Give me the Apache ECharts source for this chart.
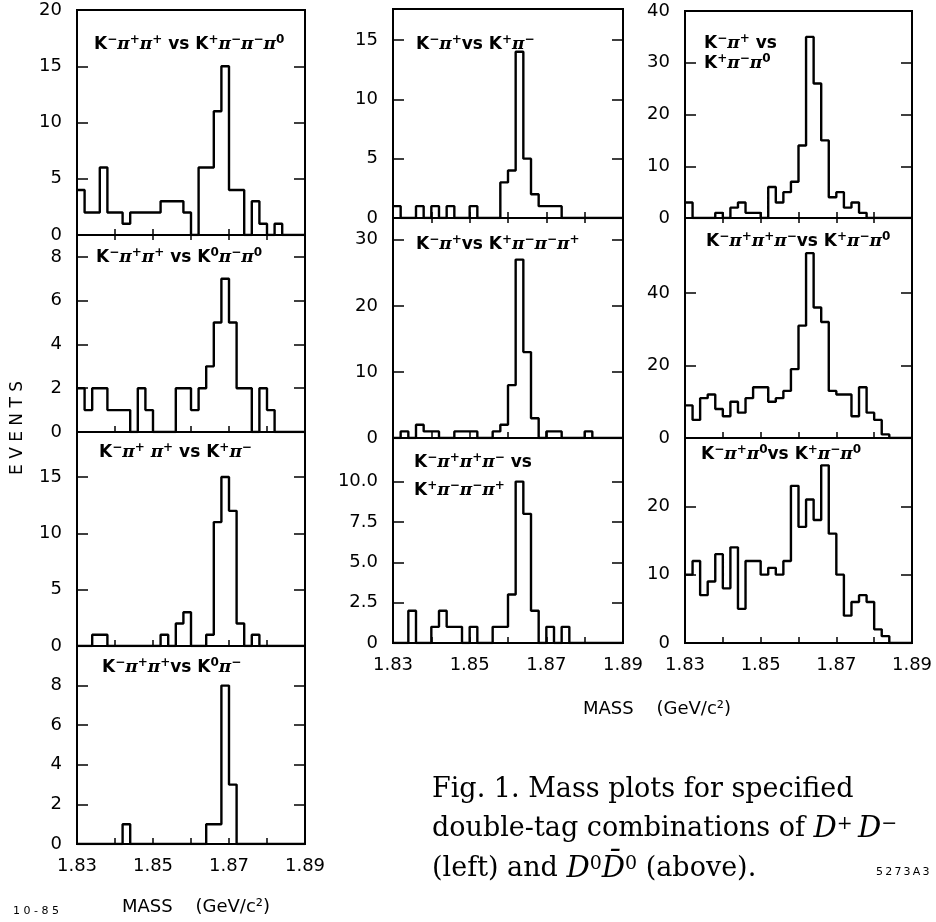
<!DOCTYPE html>
<html>
<head>
<meta charset="utf-8">
<script src="https://cdn.jsdelivr.net/npm/echarts@6/dist/echarts.min.js"></script>
<style>
  html, body { margin: 0; padding: 0; background: #fff; }
  #chart { width: 936px; height: 922px; }
</style>
</head>
<body>
<div id="chart"></div>
<script>
// Histogram binning: 30 bins of 2 MeV from 1.83 to 1.89 GeV/c^2
const BIN_LO = 1.83;
const BIN_W = 0.002;

// Mass axis ticks and labels (GeV/c^2)
const massTicks = [1.83, 1.84, 1.85, 1.86, 1.87, 1.88, 1.89];
const massLabels = [1.83, 1.85, 1.87, 1.89];

// D+ D- double tags (events per bin)
const kpipi_vs_kpipipi0 = [4, 2, 2, 6, 2, 2, 1, 2, 2, 2, 2, 3, 3, 3, 2, 0, 6, 6, 11, 15, 4, 4, 0, 3, 1, 0, 1, 0, 0, 0];
const kpipi_vs_k0pipi0  = [2, 1, 2, 2, 1, 1, 1, 0, 2, 1, 0, 0, 0, 2, 2, 1, 2, 3, 5, 7, 5, 2, 2, 0, 2, 1, 0, 0, 0, 0];
const kpipi_vs_kpi      = [0, 0, 1, 1, 0, 0, 0, 0, 0, 0, 0, 1, 0, 2, 3, 0, 0, 1, 11, 15, 12, 2, 0, 1, 0, 0, 0, 0, 0, 0];
const kpipi_vs_k0pi     = [0, 0, 0, 0, 0, 0, 1, 0, 0, 0, 0, 0, 0, 0, 0, 0, 0, 1, 1, 8, 3, 0, 0, 0, 0, 0, 0, 0, 0, 0];

// D0 D0bar double tags (events per bin)
const kpi_vs_kpi         = [1, 0, 0, 1, 0, 1, 0, 1, 0, 0, 1, 0, 0, 0, 3, 4, 14, 5, 2, 1, 1, 1, 0, 0, 0, 0, 0, 0, 0, 0];
const kpi_vs_k3pi        = [0, 1, 0, 2, 1, 1, 0, 0, 1, 1, 1, 0, 0, 1, 2, 8, 27, 13, 3, 0, 1, 1, 0, 0, 0, 1, 0, 0, 0, 0];
const k3pi_vs_k3pi       = [0, 0, 2, 0, 0, 1, 2, 1, 1, 0, 1, 0, 0, 1, 1, 3, 10, 8, 2, 0, 1, 0, 1, 0, 0, 0, 0, 0, 0, 0];
const kpi_vs_kpipi0      = [3, 0, 0, 0, 1, 0, 2, 3, 1, 1, 0, 6, 3, 5, 7, 14, 35, 26, 15, 4, 5, 2, 3, 1, 0, 0, 0, 0, 0, 0];
const k3pi_vs_kpipi0     = [9, 5, 11, 12, 8, 6, 10, 7, 11, 14, 14, 10, 11, 13, 19, 31, 51, 36, 32, 13, 12, 12, 6, 14, 7, 5, 1, 0, 0, 0];
const kpipi0_vs_kpipi0   = [10, 12, 7, 9, 13, 8, 14, 5, 12, 12, 10, 11, 10, 12, 23, 17, 21, 18, 26, 16, 10, 4, 6, 7, 6, 2, 1, 0, 0, 0];

// Event-axis tick labels per panel
const eventTicksL1 = [0, 5, 10, 15, 20];
const eventTicksL2 = [0, 2, 4, 6, 8];
const eventTicksL3 = [0, 5, 10, 15];
const eventTicksL4 = [0, 2, 4, 6, 8];
const eventTicksM1 = [0, 5, 10, 15];
const eventTicksM2 = [0, 10, 20, 30];
const eventTicksM3 = [0, 2.5, 5, 7.5, 10];
const eventTicksR1 = [0, 10, 20, 30, 40];
const eventTicksR2 = [0, 20, 40];
const eventTicksR3 = [0, 10, 20];

// Panel layout (pixels) and decay-mode captions
const COL_L = { left: 77, width: 228 };
const COL_M = { left: 393, width: 230 };
const COL_R = { left: 685, width: 227 };

const panels = [
  { counts: kpipi_vs_kpipipi0, ticks: eventTicksL1, max: 20, col: COL_L, top: 10, bottom: 235, topTicks: true, xLabels: false,
    titles: [{ t: 'K-π+π+ vs K+π-π-π0', x: 94, y: 34 }] },
  { counts: kpipi_vs_k0pipi0, ticks: eventTicksL2, max: 9, col: COL_L, top: 235, bottom: 432, topTicks: false, xLabels: false,
    titles: [{ t: 'K-π+π+ vs K0π-π0', x: 96, y: 247 }] },
  { counts: kpipi_vs_kpi, ticks: eventTicksL3, max: 19, col: COL_L, top: 432, bottom: 646, topTicks: false, xLabels: false,
    titles: [{ t: 'K-π+ π+ vs K+π-', x: 99, y: 442 }] },
  { counts: kpipi_vs_k0pi, ticks: eventTicksL4, max: 10, col: COL_L, top: 646, bottom: 844, topTicks: false, xLabels: true,
    titles: [{ t: 'K-π+π+vs K0π-', x: 102, y: 657 }] },

  { counts: kpi_vs_kpi, ticks: eventTicksM1, max: 17.6, col: COL_M, top: 9, bottom: 218, topTicks: true, xLabels: false,
    titles: [{ t: 'K-π+vs K+π-', x: 416, y: 34 }] },
  { counts: kpi_vs_k3pi, ticks: eventTicksM2, max: 33.3, col: COL_M, top: 218, bottom: 438, topTicks: false, xLabels: false,
    titles: [{ t: 'K-π+vs K+π-π-π+', x: 416, y: 234 }] },
  { counts: k3pi_vs_k3pi, ticks: eventTicksM3, max: 12.7, col: COL_M, top: 438, bottom: 643, topTicks: false, xLabels: true, decimals: 1,
    titles: [{ t: 'K-π+π+π- vs', x: 414, y: 452 }, { t: 'K+π-π-π+', x: 414, y: 480 }] },

  { counts: kpi_vs_kpipi0, ticks: eventTicksR1, max: 40, col: COL_R, top: 11, bottom: 218, topTicks: true, xLabels: false,
    titles: [{ t: 'K-π+ vs', x: 704, y: 33 }, { t: 'K+π-π0', x: 704, y: 53 }] },
  { counts: k3pi_vs_kpipi0, ticks: eventTicksR2, max: 60.7, col: COL_R, top: 218, bottom: 438, topTicks: false, xLabels: false,
    titles: [{ t: 'K-π+π+π-vs K+π-π0', x: 706, y: 231 }] },
  { counts: kpipi0_vs_kpipi0, ticks: eventTicksR3, max: 30, col: COL_R, top: 438, bottom: 643, topTicks: false, xLabels: true,
    titles: [{ t: 'K-π+π0vs K+π-π0', x: 701, y: 444 }] }
];

// Turn "K-π+π0 vs ..." into rich text with superscript charges
function modeRich(s) {
  let out = '';
  for (let i = 0; i < s.length; i++) {
    const c = s[i];
    const prev = s[i - 1];
    if ((c === '+' || c === '-' || c === '0') && (prev === 'K' || prev === 'π')) {
      out += '{s|' + (c === '-' ? '−' : c) + '}';
    } else if (c === 'π') {
      out += '{p|π}';
    } else if (c === 'K') {
      out += '{k|K}';
    } else {
      out += '{k|' + c + '}';
    }
  }
  return out;
}

const modeRichStyles = {
  k: { fontFamily: 'DejaVu Sans', fontWeight: 'bold', fontSize: 17, lineHeight: 22, color: '#000' },
  p: { fontFamily: 'DejaVu Serif', fontWeight: 'bold', fontStyle: 'italic', fontSize: 17, lineHeight: 22, color: '#000' },
  s: { fontFamily: 'DejaVu Sans', fontWeight: 'bold', fontSize: 12, lineHeight: 12, verticalAlign: 'top', color: '#000' }
};

function histPoints(counts) {
  const pts = counts.map((c, i) => [BIN_LO + i * BIN_W, c]);
  pts.push([BIN_LO + counts.length * BIN_W, 0]);
  return pts;
}

const grids = [], xAxes = [], yAxes = [], series = [], titles = [];
const tickFont = { fontFamily: 'DejaVu Sans', fontSize: 18, color: '#000' };

panels.forEach((p, gi) => {
  grids.push({
    left: p.col.left, top: p.top, width: p.col.width, height: p.bottom - p.top,
    show: true, borderColor: '#000', borderWidth: 2, backgroundColor: 'transparent'
  });
  const baseX = {
    type: 'value', gridIndex: gi, min: 1.83, max: 1.89,
    axisLine: { show: false }, splitLine: { show: false }
  };
  const bottomX = Object.assign({}, baseX, {
    position: 'bottom',
    axisTick: { show: true, inside: true, length: 6, customValues: massTicks, lineStyle: { color: '#000', width: 1.5 } },
    axisLabel: {
      show: p.xLabels, customValues: massLabels, margin: 13,
      formatter: v => v.toFixed(2), ...tickFont
    }
  });
  xAxes.push(bottomX);
  const xIndex = xAxes.length - 1;
  if (p.topTicks) {
    xAxes.push(Object.assign({}, baseX, {
      position: 'top',
      axisTick: { show: true, inside: true, length: 5, customValues: massTicks, lineStyle: { color: '#000', width: 1.5 } },
      axisLabel: { show: false }
    }));
  }
  const baseY = {
    type: 'value', gridIndex: gi, min: 0, max: p.max,
    axisLine: { show: false }, splitLine: { show: false },
    axisTick: { show: true, inside: true, length: 11, customValues: p.ticks, lineStyle: { color: '#000', width: 1.5 } }
  };
  yAxes.push(Object.assign({}, baseY, {
    position: 'left',
    axisLabel: {
      show: true, customValues: p.ticks, margin: 15,
      formatter: v => (v === 0 ? '0' : (p.decimals ? v.toFixed(p.decimals) : String(v))), ...tickFont
    }
  }));
  const yIndex = yAxes.length - 1;
  yAxes.push(Object.assign({}, baseY, { position: 'right', axisLabel: { show: false } }));

  series.push({
    type: 'line', xAxisIndex: xIndex, yAxisIndex: yIndex,
    step: 'end', symbol: 'none', silent: true, animation: false,
    lineStyle: { color: '#000', width: 2.4 },
    data: histPoints(p.counts)
  });

  p.titles.forEach(tt => {
    titles.push({
      text: modeRich(tt.t), left: tt.x, top: tt.y, padding: 0,
      textStyle: { rich: modeRichStyles }
    });
  });
});

const serif = 'DejaVu Serif';
const captionRich = {
  r: { fontFamily: serif, fontSize: 27, color: '#000' },
  i: { fontFamily: serif, fontStyle: 'italic', fontSize: 29, color: '#000' },
  u: { fontFamily: serif, fontSize: 19, verticalAlign: 'top', lineHeight: 15, color: '#000' }
};

const centered = { fill: '#000', align: 'center', verticalAlign: 'middle', textAlign: 'center', textVerticalAlign: 'middle' };
const leftMid = { fill: '#000', align: 'left', verticalAlign: 'middle', textAlign: 'left', textVerticalAlign: 'middle' };

const graphic = [
  { type: 'text', x: 18, y: 428, rotation: Math.PI / 2,
    style: Object.assign({ text: 'E V E N T S', font: '17px "DejaVu Sans"' }, centered) },
  { type: 'text', x: 196, y: 907,
    style: Object.assign({ text: 'MASS    (GeV/c²)', font: '18px "DejaVu Sans"' }, centered) },
  { type: 'text', x: 657, y: 709,
    style: Object.assign({ text: 'MASS    (GeV/c²)', font: '18px "DejaVu Sans"' }, centered) },
  { type: 'text', x: 13, y: 911,
    style: Object.assign({ text: '1 0 - 8 5', font: '11px "DejaVu Sans"' }, leftMid) },
  { type: 'text', x: 876, y: 872,
    style: Object.assign({ text: '5\u20092\u20097\u20093\u2009A\u20093', font: '11px "DejaVu Sans"' }, leftMid) },
  { type: 'text', x: 432, y: 790,
    style: Object.assign({ text: '{r|Fig. 1. Mass plots for specified}', rich: captionRich }, leftMid) },
  { type: 'text', x: 432, y: 829,
    style: Object.assign({ text: '{r|double-tag combinations of }{i|D}{u|+}{r|\u2009}{i|D}{u|−}', rich: captionRich }, leftMid) },
  { type: 'text', x: 432, y: 869,
    style: Object.assign({ text: '{r|(left) and }{i|D}{u|0}{i|D\u0304}{u|0}{r| (above).}', rich: captionRich }, leftMid) }
];

const chart = echarts.init(document.getElementById('chart'), null, { renderer: 'canvas' });
chart.setOption({
  backgroundColor: '#fff',
  animation: false,
  title: titles,
  grid: grids,
  xAxis: xAxes,
  yAxis: yAxes,
  series: series,
  graphic: graphic
});
</script>
</body>
</html>
